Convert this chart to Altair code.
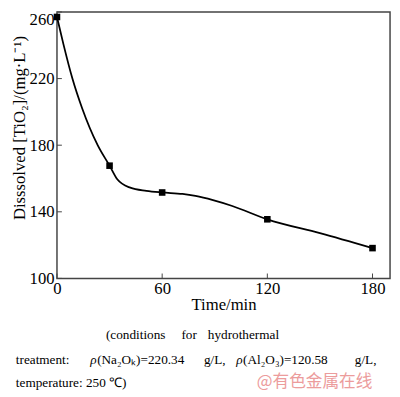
import altair as alt
import pandas as pd

# measured points (markers)
time_pts = [0, 30, 60, 120, 180]
tio2_pts = [257, 167.7, 151.6, 135.5, 118.2]

# smooth curve
curve_t = [0, 3.6, 8.8, 14.4, 23.2, 30, 34.4, 41.8, 51, 60, 71.6, 79, 89, 100, 120, 150, 180]
curve_v = [257, 241, 220, 202, 180, 167.7, 159.5, 154.5, 152.6, 151.6, 150.7, 149.5, 147, 143.5, 135.5, 127.2, 118.2]

x_ticks = [0, 60, 120, 180]
y_ticks = [100, 140, 180, 220, 260]

cap_text = ["(conditions", "for", "hydrothermal",
            "treatment:", "(Na₂Oₖ)=220.34", "g/L,", "(Al₂O₃)=120.58", "g/L,",
            "temperature: 250 ℃)"]
cap_x = [50, 127, 154, -42, 41, 150, 190, 304, -42]
cap_y = [330, 330, 330, 355, 355, 355, 355, 355, 379]
rho_x = [34, 183]
rho_y = [355, 355]

W, H = 340, 272
FONT = "Liberation Serif"
AX = "#444444"

x_scale = alt.Scale(domain=[0, 190], nice=False, zero=False)
y_scale = alt.Scale(domain=[100, 260], nice=False, zero=False)

pts = pd.DataFrame({"t": time_pts, "v": tio2_pts})
crv = pd.DataFrame({"t": curve_t, "v": curve_v})

x_axis = alt.Axis(values=x_ticks, title="Time/min", domain=False, ticks=False, grid=False,
                  labelFont=FONT, labelFontSize=17, labelColor="black", labelPadding=2,
                  labelFlush=False,
                  titleFont=FONT, titleFontSize=17, titleFontWeight="normal", titleColor="black",
                  titlePadding=1)
y_axis = alt.Axis(values=y_ticks, title="Disssolved [TiO₂]/(mg·L⁻¹)", domain=False, ticks=False,
                  grid=False, labelFont=FONT, labelFontSize=17, labelColor="black", labelPadding=3,
                  labelBaseline={"condition": {"test": "datum.value >= 260", "value": "top"}, "value": "middle"},
                  titleFont=FONT, titleFontSize=17, titleFontWeight="normal", titleColor="black",
                  titleX=-29, titleY=118, titleAngle=-90)

X = alt.X("t:Q", scale=x_scale, axis=x_axis)
Y = alt.Y("v:Q", scale=y_scale, axis=y_axis)

line = alt.Chart(crv).mark_line(interpolate="monotone", color="black", strokeWidth=1.8).encode(x=X, y=Y)
marks = alt.Chart(pts).mark_square(size=45, color="black", opacity=1).encode(x=X, y=Y)
xt = alt.Chart(pd.DataFrame({"t": x_ticks})).mark_rule(color=AX, strokeWidth=1).encode(
    x=X, y=alt.value(H), y2=alt.value(H - 5))
yt = alt.Chart(pd.DataFrame({"v": y_ticks})).mark_rule(color=AX, strokeWidth=1).encode(
    y=Y, x=alt.value(0), x2=alt.value(5))

caps = alt.Chart(pd.DataFrame({"x": cap_x, "y": cap_y, "s": cap_text})).mark_text(
    align="left", baseline="middle", font=FONT, fontSize=13.5, color="black").encode(
    x=alt.X("x:Q", scale=None), y=alt.Y("y:Q", scale=None), text="s:N")
rho = alt.Chart(pd.DataFrame({"x": rho_x, "y": rho_y, "s": ["ρ", "ρ"]})).mark_text(
    align="left", baseline="middle", font=FONT, fontSize=13.5, fontStyle="italic", color="black").encode(
    x=alt.X("x:Q", scale=None), y=alt.Y("y:Q", scale=None), text="s:N")
wm = alt.Chart(pd.DataFrame({"x": [204], "y": [378], "s": ["@有色金属在线"]})).mark_text(
    align="left", baseline="middle", font="Noto Sans CJK SC", fontSize=17, color="#ec9c9c").encode(
    x=alt.X("x:Q", scale=None), y=alt.Y("y:Q", scale=None), text="s:N")

chart = alt.layer(line, marks, xt, yt, caps, rho, wm).properties(
    width=W, height=H, autosize="none",
    padding={"left": 50, "top": 0, "right": 2, "bottom": 117},
    background="white",
).configure_view(stroke=AX, strokeWidth=1.5)

chart.save("out.html", embed_options={"renderer": "svg", "actions": False})
